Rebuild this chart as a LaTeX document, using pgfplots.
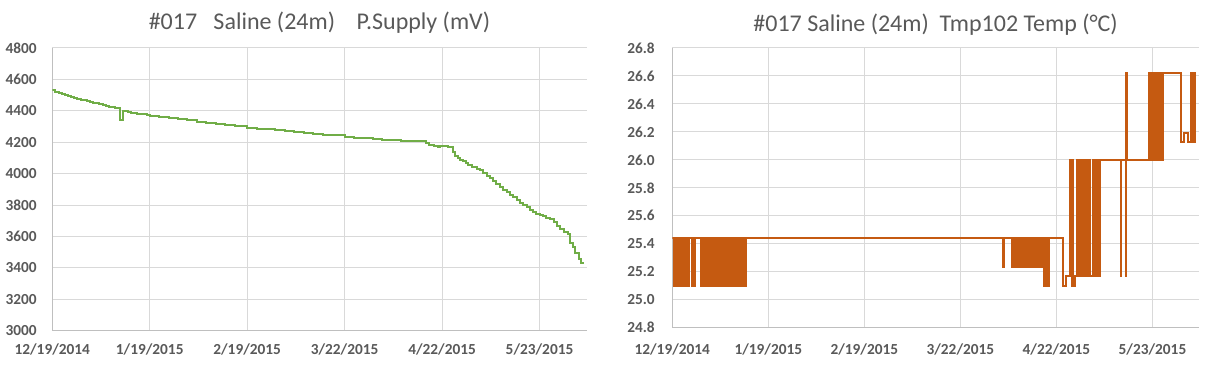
\documentclass[border=0pt]{standalone}
\usepackage{pgfplots}
\pgfplotsset{compat=1.18}
\usepackage{pgfplotstable}
\usepackage{fontspec}
\setmainfont{Carlito}
\definecolor{txt}{HTML}{595959}
\definecolor{gridc}{HTML}{D9D9D9}
\definecolor{axl}{HTML}{BFBFBF}
\definecolor{grn}{HTML}{70AD47}
\definecolor{org}{HTML}{C55A11}

\pgfplotstableread{
day mv
0 4530
1 4522
2 4515
3 4508
4 4502
5 4496
6 4490
7 4484
8 4478
9 4472
10 4466
11 4461
12 4456
13 4451
14 4447
15 4442
16 4437
17 4432
18 4427
19 4422
20 4417
21.5 4412
21.7 4340
22.4 4400
23 4396
24 4392
25 4388
26 4385
27 4381
28 4378
30 4372
31 4369
34 4361
37 4354
40 4346
43 4339
46 4331
49 4324
52 4316
55 4309
58 4302
62 4292
65 4287
68 4281
71 4276
74 4270
77 4265
80 4260
83 4255
86 4249
89 4244
93 4236
96 4230
99 4224
102 4219
105 4215
108 4212
111 4209
114 4207
117 4205
119 4195
120 4180
121.5 4173
122.7 4167
123.5 4176
124.5 4178
126 4170
127.5 4140
128 4112
129 4100
129.6 4088
130.5 4078
131.5 4065
132.3 4052
133.5 4042
135 4030
136 4020
137 4005
138.2 3988
139.2 3970
140.3 3952
141.3 3935
142.4 3913
143.5 3898
144.6 3882
145.6 3866
146.7 3849
147.8 3833
148.8 3816
149.9 3800
150.9 3785
152 3770
153 3758
154 3746
155 3735
156 3728
157.2 3720
158.4 3710
159.5 3690
160.5 3668
161.6 3646
162.8 3630
164 3614
164.8 3560
165.6 3530
166.4 3496
167.5 3458
168.2 3428
169.3 3428
}\supply

\pgfplotstableread{
day t
0 25.44
0.4 25.10
0.8 25.44
1.2 25.10
1.6 25.44
2.0 25.10
2.4 25.44
2.8 25.10
3.1 25.44
3.5 25.10
3.9 25.44
4.3 25.10
4.7 25.44
5.1 25.10
5.4 25.44
6.3 25.10
6.7 25.44
7.1 25.10
7.5 25.44
9.1 25.10
9.5 25.44
9.9 25.10
10.3 25.44
10.7 25.10
11.1 25.44
11.5 25.10
11.9 25.44
12.3 25.10
12.7 25.44
13.1 25.10
13.5 25.44
13.9 25.10
14.3 25.44
14.7 25.10
15.1 25.44
15.5 25.10
15.9 25.44
16.3 25.10
16.7 25.44
17.1 25.10
17.5 25.44
17.9 25.10
18.3 25.44
18.7 25.10
19.1 25.44
19.5 25.10
19.9 25.44
20.3 25.10
20.7 25.44
21.1 25.10
21.5 25.44
21.9 25.10
22.3 25.44
22.7 25.10
23.1 25.44
23.5 25.10
23.9 25.44
106.7 25.23
107.1 25.44
109.5 25.23
109.9 25.44
110.3 25.23
110.7 25.44
111.1 25.23
111.5 25.44
111.9 25.23
112.3 25.44
112.7 25.23
113.1 25.44
113.5 25.23
113.9 25.44
114.3 25.23
114.7 25.44
115.1 25.23
115.5 25.44
115.9 25.23
116.3 25.44
116.7 25.23
117.1 25.44
117.5 25.23
117.9 25.44
118.3 25.23
118.7 25.44
119.0 25.23
119.3 25.44
120.0 25.10
120.4 25.44
120.7 25.10
121.1 25.44
121.3 25.10
121.6 25.44
126.2 25.10
127.2 25.17
128.3 26.00
128.6 25.17
128.8 26.00
129.0 25.10
129.3 26.00
129.5 25.10
130.1 25.17
130.5 26.00
130.8 25.17
131.1 26.00
131.4 25.17
131.7 26.00
132.0 25.17
132.3 26.00
132.6 25.17
132.9 26.00
133.2 25.17
133.4 26.00
133.6 25.17
134.2 26.00
134.5 25.17
134.7 26.00
134.9 25.17
135.6 26.00
135.9 25.17
136.2 26.00
136.4 25.17
136.9 26.00
137.2 25.17
137.5 26.00
137.8 25.17
138.0 26.00
144.7 25.17
144.9 26.00
146.3 25.17
146.5 26.62
146.7 26.00
153.7 26.62
154.1 26.00
154.5 26.62
154.9 26.00
155.3 26.62
155.7 26.00
156.1 26.62
156.5 26.00
156.9 26.62
157.3 26.00
157.7 26.62
158.1 26.00
158.4 26.62
164.3 26.13
165.1 26.19
166.4 26.13
167.3 26.62
167.6 26.13
167.9 26.62
168.2 26.13
168.5 26.62
168.8 26.13
169.2 26.13
}\temp

\pgfplotsset{every axis title shift=0pt}
\pgfplotsset{myax/.style={
  scale only axis,
  axis x line=bottom, axis y line=left,
  axis line style={axl, line width=0.75pt, -},
  grid=major, major grid style={gridc, line width=0.75pt},
  major tick length=0pt,
  xmin=0, xmax=170,
  xtick={0,31,62,93,124,155},
  xticklabels={12/19/2014,1/19/2015,2/19/2015,3/22/2015,4/22/2015,5/23/2015},
  ticklabel style={font=\bfseries\fontsize{11.5}{13}\selectfont, text=txt, inner sep=0pt},
  /pgf/number format/assume math mode=true,
  title style={font=\fontsize{18}{21}\selectfont, text=txt, at={(0.5,1)}, anchor=base, inner sep=0pt},
}}

\begin{document}
\begin{tikzpicture}
\useasboundingbox (-39.2pt,-27.2pt) rectangle (869.8pt,248pt);
\begin{axis}[myax,
  at={(0pt,0pt)}, anchor=south west,
  width=400.8pt, height=212pt,
  ymin=3000, ymax=4800, ytick={3000,3200,...,4800},
  /pgf/number format/1000 sep={},
  xticklabel style={anchor=base, yshift=-18.2pt},
  yticklabel style={anchor=east, xshift=-11.5pt},
  title={\#017\ \ \ Saline (24m)\ \ \ \ P.Supply (mV)},
  title style={yshift=14pt},
]
\addplot[const plot, grn, line width=1.5pt] table[x=day, y=mv] {\supply};
\end{axis}
\begin{axis}[myax,
  at={(465pt,2.25pt)}, anchor=south west,
  width=395pt, height=209.8pt,
  ymin=24.8, ymax=26.8, ytick={24.8,25.0,...,26.8},
  /pgf/number format/.cd, fixed, fixed zerofill, precision=1, /pgfplots/.cd,
  xticklabel style={anchor=base, yshift=-20.5pt},
  yticklabel style={anchor=east, xshift=-13pt},
  title={\#017 Saline (24m)\ \ Tmp102 Temp (°C)},
  title style={yshift=12.5pt},
]
\addplot[const plot, org, line width=1.3pt] table[x=day, y=t] {\temp};
\end{axis}
\end{tikzpicture}
\end{document}
